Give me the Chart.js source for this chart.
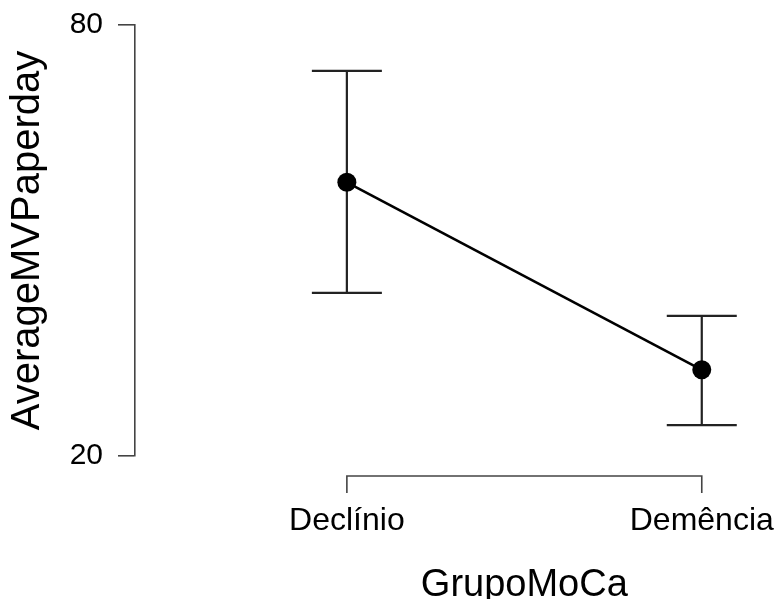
<!DOCTYPE html>
<html>
<head>
<meta charset="utf-8">
<script src="https://cdn.jsdelivr.net/npm/chart.js@4.4.0/dist/chart.umd.min.js"></script>
<style>
  body { margin: 0; background: #fff; }
  #wrap { width: 777px; height: 599px; }
</style>
</head>
<body>
<div id="wrap"><canvas id="myChart" width="777" height="599"></canvas></div>
<script>
// data
var groups = ['Declínio', 'Demência'];
var means = [58.1, 32.0];
var upper = [73.6, 39.5];
var lower = [42.7, 24.3];
var yTicks = [20, 80];

var axisColor = '#444';
var fontFamily = "'Liberation Sans', Arial, sans-serif";

// error bars, drawn under the points
var errorBars = {
    id: 'errorBars',
    beforeDatasetsDraw: function(chart) {
        var c = chart.ctx, x = chart.scales.x, y = chart.scales.y;
        c.save();
        c.strokeStyle = '#222';
        c.lineWidth = 2.2;
        for (var i = 0; i < groups.length; i++) {
            var px = x.getPixelForValue(i);
            var top = y.getPixelForValue(upper[i]);
            var bot = y.getPixelForValue(lower[i]);
            c.beginPath();
            c.moveTo(px, top); c.lineTo(px, bot);
            c.moveTo(px - 35, top); c.lineTo(px + 35, top);
            c.moveTo(px - 35, bot); c.lineTo(px + 35, bot);
            c.stroke();
        }
        c.restore();
    }
};

// bracket-style x axis and its title, centred on the groups
var xBracket = {
    id: 'xBracket',
    afterDraw: function(chart) {
        var c = chart.ctx, x = chart.scales.x;
        var x0 = x.getPixelForValue(0);
        var x1 = x.getPixelForValue(groups.length - 1);
        var yl = chart.chartArea.bottom + 20;
        c.save();
        c.strokeStyle = axisColor;
        c.lineWidth = 1.6;
        c.beginPath();
        c.moveTo(x0, yl + 17); c.lineTo(x0, yl);
        c.lineTo(x1, yl); c.lineTo(x1, yl + 17);
        c.stroke();
        c.fillStyle = '#000';
        c.font = '38px ' + fontFamily;
        c.textAlign = 'center';
        c.textBaseline = 'alphabetic';
        c.fillText('GrupoMoCa', (x0 + x1) / 2, 596);
        c.restore();
    }
};

function noPadding(s) {
    s.paddingTop = 0; s.paddingBottom = 0;
    s.paddingLeft = 0; s.paddingRight = 0;
}

var ctx = document.getElementById('myChart').getContext('2d');
var myChart = new Chart(ctx, {
    type: 'line',
    data: {
        datasets: [{
            data: means.map(function(v, i) { return { x: i, y: v }; }),
            borderColor: '#000',
            borderWidth: 2.6,
            backgroundColor: '#000',
            pointRadius: 9.5,
            pointBackgroundColor: '#000',
            pointBorderWidth: 0,
            tension: 0
        }]
    },
    options: {
        responsive: false,
        animation: false,
        events: [],
        layout: { autoPadding: false, padding: { top: 25, right: 22, left: 0, bottom: 0 } },
        plugins: { legend: { display: false }, tooltip: { enabled: false } },
        scales: {
            x: {
                type: 'linear',
                min: -0.597,
                max: 1.15,
                afterFit: function(s) { s.height = 143; noPadding(s); },
                afterBuildTicks: function(s) {
                    s.ticks = groups.map(function(g, i) { return { value: i }; });
                },
                grid: { display: false, drawTicks: false },
                border: { display: false },
                ticks: {
                    autoSkip: false,
                    maxRotation: 0,
                    padding: 46,
                    color: '#000',
                    font: { size: 32, family: fontFamily },
                    callback: function(v) { return groups[v]; }
                }
            },
            y: {
                min: yTicks[0],
                max: yTicks[yTicks.length - 1],
                afterFit: function(s) { s.width = 135; noPadding(s); },
                afterBuildTicks: function(s) {
                    s.ticks = yTicks.map(function(v) { return { value: v }; });
                },
                grid: { drawOnChartArea: false, drawTicks: true, tickLength: 17, color: axisColor, lineWidth: 1.6 },
                border: { display: true, color: axisColor, width: 1.6 },
                ticks: {
                    padding: 15,
                    color: '#000',
                    font: { size: 30, family: fontFamily }
                },
                title: {
                    display: true,
                    text: 'AverageMVPaperday',
                    color: '#000',
                    font: { size: 40, family: fontFamily },
                    padding: { top: 4, bottom: 0 }
                }
            }
        }
    },
    plugins: [errorBars, xBracket]
});
</script>
</body>
</html>
